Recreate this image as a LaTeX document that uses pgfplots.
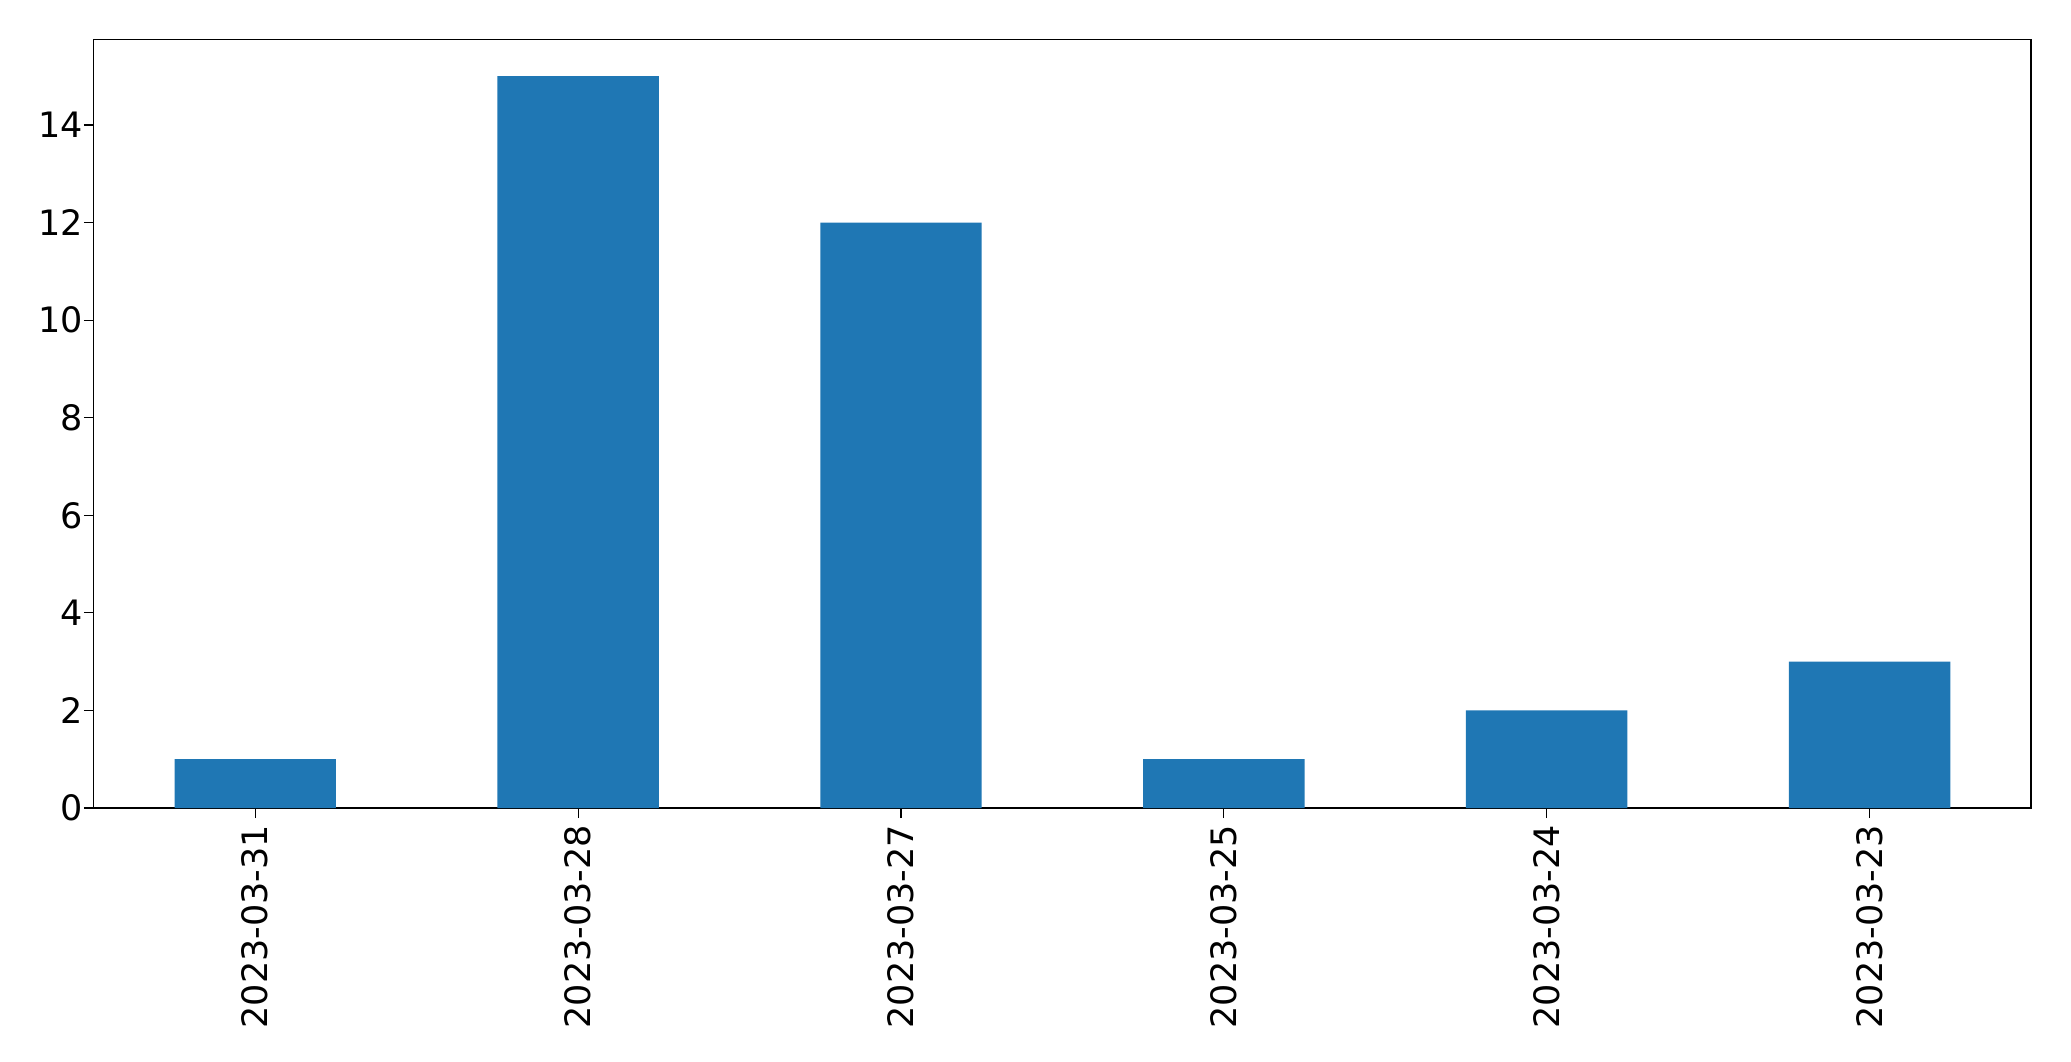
\documentclass[border=0pt]{standalone}
\usepackage{fontspec}
\setmainfont{DejaVu Sans}
\usepackage{pgfplots}
\pgfplotsset{compat=1.18}
\definecolor{mplblue}{HTML}{1F77B4}
\begin{document}
\begin{tikzpicture}
\useasboundingbox (-46.9pt,-126.5pt) rectangle (988.6pt,404pt);
\begin{axis}[
  at={(0,0)}, anchor=south west,
  scale only axis, width=968.6pt, height=384.2pt,
  xmin=-0.5, xmax=5.5, ymin=0, ymax=15.75,
  xtick={0,1,2,3,4,5},
  xticklabels={2023-03-31,2023-03-28,2023-03-27,2023-03-25,2023-03-24,2023-03-23},
  xticklabel style={rotate=90, anchor=east},
  yticklabel style={xshift=3pt},
  ytick={0,2,4,6,8,10,12,14},
  tick label style={font=\fontsize{17.5}{20}\selectfont},
  /pgf/number format/assume math mode=true,
  tick align=outside, tick pos=left,
  major tick length=5pt,
  every tick/.style={black, line width=0.6pt},
  axis line style={line width=0.6pt},
  ybar, bar width=0.5,
]
\addplot[fill=mplblue, draw=none] coordinates {(0,1) (1,15) (2,12) (3,1) (4,2) (5,3)};
\end{axis}
\end{tikzpicture}
\end{document}
